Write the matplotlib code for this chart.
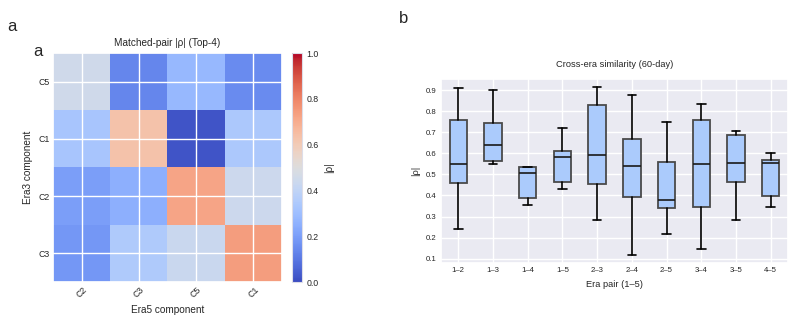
import numpy as np
import matplotlib
matplotlib.use("Agg")
import matplotlib.pyplot as plt
import seaborn as sns

sns.set_theme(style="darkgrid")
plt.rcParams['font.family'] = ['Liberation Sans', 'DejaVu Sans']

# panel a : matched-pair |rho| (rows = Era3, cols = Era5)
era3_labels = ["C5", "C1", "C2", "C3"]
era5_labels = ["C2", "C3", "C5", "C1"]
rho = np.array([
    [0.45, 0.14, 0.28, 0.15],
    [0.33, 0.63, 0.02, 0.34],
    [0.20, 0.25, 0.72, 0.44],
    [0.18, 0.35, 0.43, 0.74],
])

# panel b : cross-era similarity box stats
pairs = ["1\u20132", "1\u20133", "1\u20134", "1\u20135", "2\u20133",
         "2\u20134", "2\u20135", "3\u20134", "3\u20135", "4\u20135"]
whis_lo = [0.240, 0.551, 0.357, 0.429, 0.283, 0.119, 0.216, 0.148, 0.283, 0.344]
q1 = [0.457, 0.563, 0.387, 0.465, 0.456, 0.394, 0.340, 0.346, 0.462, 0.397]
med = [0.548, 0.638, 0.505, 0.583, 0.590, 0.540, 0.379, 0.551, 0.556, 0.556]
q3 = [0.760, 0.743, 0.535, 0.613, 0.829, 0.668, 0.560, 0.756, 0.687, 0.570]
whis_hi = [0.908, 0.900, 0.537, 0.721, 0.913, 0.879, 0.748, 0.832, 0.706, 0.602]

fig = plt.figure(figsize=(7.97, 3.28), dpi=100)

# heatmap
ax1 = fig.add_axes([0.0665, 0.1402, 0.2873, 0.698])
im = ax1.imshow(rho, cmap="coolwarm", vmin=0, vmax=1, aspect="auto")
ax1.set_xticks(range(len(era5_labels)))
ax1.set_xticklabels(era5_labels, rotation=45, fontsize=6.3)
ax1.set_yticks(range(len(era3_labels)))
ax1.set_yticklabels(era3_labels, fontsize=6.3)
ax1.grid(True, color="white", linewidth=1.0)
ax1.set_title("Matched-pair |\u03c1| (Top-4)", fontsize=7.2, pad=5)
ax1.set_xlabel("Era5 component", fontsize=7.2, labelpad=4)
ax1.set_ylabel("Era3 component", fontsize=7.2)
ax1.tick_params(length=0, pad=2)

cax = fig.add_axes([0.3664, 0.1402, 0.0125, 0.698])
cb = fig.colorbar(im, cax=cax)
cb.set_ticks([0.0, 0.2, 0.4, 0.6, 0.8, 1.0])
cb.ax.tick_params(labelsize=6.3, length=0, pad=3)
cb.set_label("|\u03c1|", fontsize=7.2)
cb.outline.set_edgecolor("#dddde8")
cb.outline.set_linewidth(0.8)

fig.text(0.009, 0.905, "a", fontsize=12)
fig.text(0.042, 0.83, "a", fontsize=12)

# boxplot
ax2 = fig.add_axes([0.5533, 0.198, 0.4354, 0.561])
stats = []
for i in range(len(pairs)):
    stats.append(dict(label=pairs[i], whislo=whis_lo[i], q1=q1[i], med=med[i],
                      q3=q3[i], whishi=whis_hi[i], fliers=[]))
ax2.bxp(stats, patch_artist=True, widths=0.5,
        boxprops=dict(facecolor="#abcbfc", edgecolor="#4a4a4a", linewidth=1.3),
        medianprops=dict(color="#1a1a1a", linewidth=1.2),
        whiskerprops=dict(color="black", linewidth=1.2),
        capprops=dict(color="black", linewidth=1.2))
ax2.set_yticks([0.1, 0.2, 0.3, 0.4, 0.5, 0.6, 0.7, 0.8, 0.9])
ax2.tick_params(labelsize=5.6, length=0, pad=3)
ax2.set_title("Cross-era similarity (60-day)", fontsize=6.7, pad=9)
ax2.set_xlabel("Era pair (1\u20135)", fontsize=6.7, labelpad=4)
ax2.set_ylabel("|\u03c1|", fontsize=6.7)

fig.text(0.5, 0.93, "b", fontsize=12)

fig.savefig("out.png", dpi=100)
